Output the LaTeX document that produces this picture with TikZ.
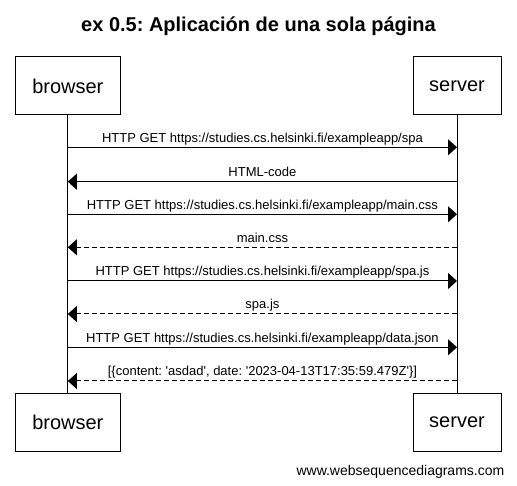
\documentclass[tikz,border=0pt]{standalone}
\usepackage{fontspec}
\setmainfont{Liberation Sans}
\usetikzlibrary{arrows.meta}
\frenchspacing
\tikzset{
  actor/.style={draw=black, line width=1pt, fill=white, inner sep=0pt, minimum height=58pt, font=\fontsize{20}{24}\selectfont},
  msg/.style={line width=1pt, -{Triangle[length=9pt,width=16pt]}},
  reply/.style={msg, dash pattern=on 5pt off 3pt},
  lbl/.style={anchor=base, inner sep=0pt, font=\fontsize{13}{15}\selectfont},
  life/.style={line width=1pt}
}
\newcommand{\sq}{\textquotesingle}
\begin{document}
\begin{tikzpicture}[x=1pt,y=-1pt]
\useasboundingbox (0,0) rectangle (517,486);
\node[anchor=base, inner sep=0pt, font=\fontsize{20}{24}\selectfont\bfseries] (title) at (258.5,31.5) {ex 0.5: Aplicación de una sola página};
% actors
\node[actor, minimum width=105.7pt] (bt) at (67.85,86) {browser};
\node[actor, minimum width=88pt] (st) at (457,86) {server};
\node[actor, minimum width=105.7pt] (bb) at (67.85,422.5) {browser};
\node[actor, minimum width=88pt] (sb) at (457,422.5) {server};
\draw[life] (bt.south) -- (bb.north);
\draw[life] (st.south) -- (sb.north);
% message endpoints
\foreach \i/\y in {1/147.3,2/181.7,3/214.3,4/247.3,5/281,6/314,7/347.3,8/381}{
  \coordinate (b\i) at (bt.south |- 0,\y);
  \coordinate (s\i) at (st.south |- 0,\y);
}
\draw[msg] (b1) -- (s1) node[lbl, midway, yshift=5pt] (l1) {HTTP GET https://studies.cs.helsinki.fi/exampleapp/spa};
\draw[msg] (s2) -- (b2) node[lbl, midway, yshift=5pt] (l2) {HTML-code};
\draw[msg] (b3) -- (s3) node[lbl, midway, yshift=5pt] (l3) {HTTP GET https://studies.cs.helsinki.fi/exampleapp/main.css};
\draw[reply] (s4) -- (b4) node[lbl, midway, yshift=5pt] (l4) {main.css};
\draw[msg] (b5) -- (s5) node[lbl, midway, yshift=5pt] (l5) {HTTP GET https://studies.cs.helsinki.fi/exampleapp/spa.js};
\draw[reply] (s6) -- (b6) node[lbl, midway, yshift=5pt] (l6) {spa.js};
\draw[msg] (b7) -- (s7) node[lbl, midway, yshift=5pt] (l7) {HTTP GET https://studies.cs.helsinki.fi/exampleapp/data.json};
\draw[reply] (s8) -- (b8) node[lbl, midway, yshift=5pt] (l8) {[\{content: \sq asdad\sq, date: \sq 2023-04-13T17:35:59.479Z\sq\}]};
\node[anchor=base east, inner sep=0pt, font=\fontsize{14}{16}\selectfont] (footer) at (504.5,475) {www.websequencediagrams.com};
\end{tikzpicture}
\end{document}
